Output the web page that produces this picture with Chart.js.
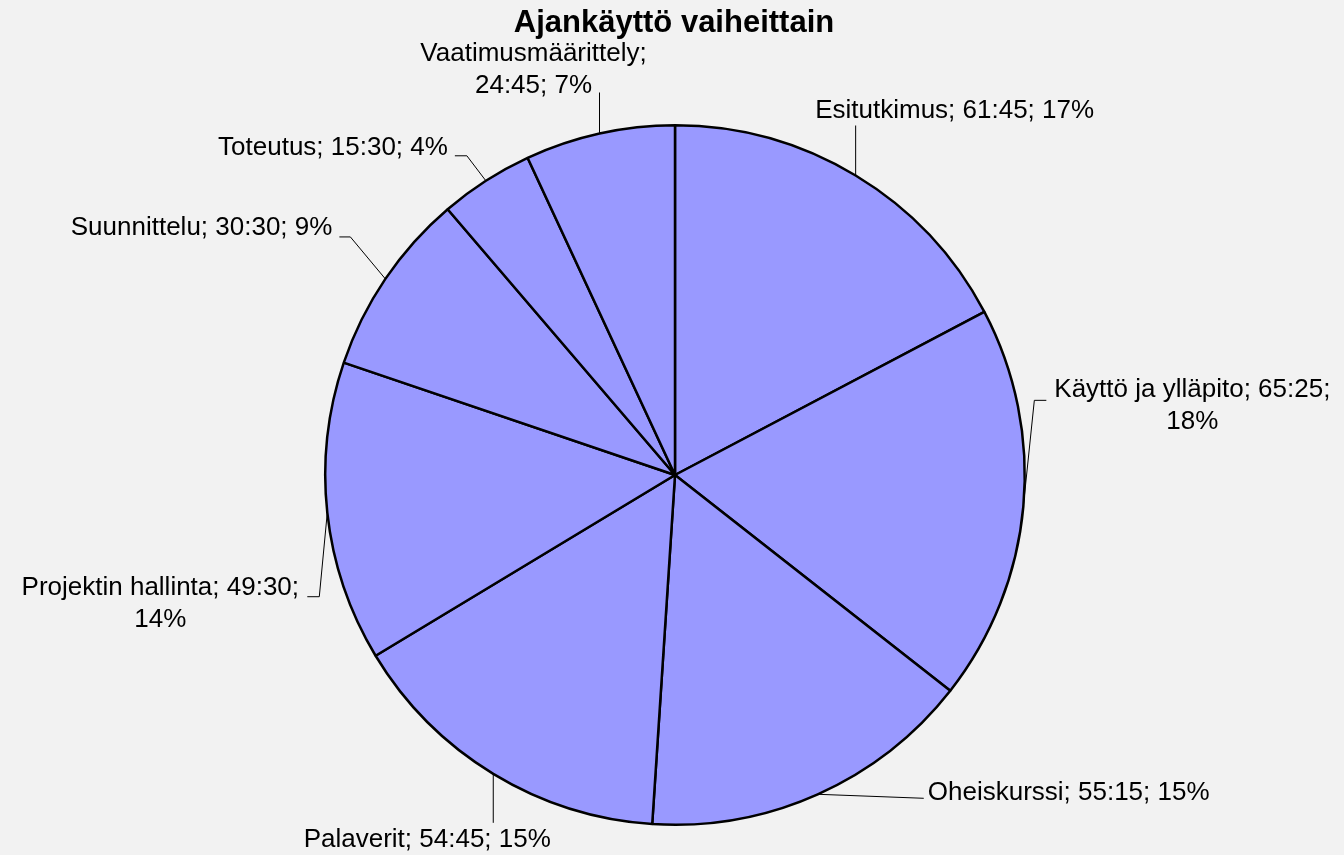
<!DOCTYPE html>
<html lang="fi">
<head>
<meta charset="utf-8">
<title>Ajankäyttö vaiheittain</title>
<script src="https://cdn.jsdelivr.net/npm/chart.js@4.4.1/dist/chart.umd.min.js"></script>
<style>
  html, body { margin: 0; padding: 0; background: #f2f2f2; }
  #pie { display: block; }
</style>
</head>
<body>
<canvas id="pie" width="1344" height="855"></canvas>
<script>
// Vaiheet ja niihin käytetty aika (tunnit:minuutit)
const phases = ['Esitutkimus', 'Käyttö ja ylläpito', 'Oheiskurssi', 'Palaverit',
                'Projektin hallinta', 'Suunnittelu', 'Toteutus', 'Vaatimusmäärittely'];
const hours = ['61:45', '65:25', '55:15', '54:45', '49:30', '30:30', '15:30', '24:45'];
const minutes = hours.map(h => {
    const [hh, mm] = h.split(':').map(Number);
    return hh * 60 + mm;
});
const total = minutes.reduce((a, b) => a + b, 0);

// Selitteiden sijoittelu suhteessa sektorin reunapisteeseen
const labelLayout = [
    { lines: 1, align: 'center', dx: 99,   dy: -65, leader: [[0, -50]] },
    { lines: 2, align: 'center', dx: 169,  dy: -101, leader: [[11, -106], [23, -106]] },
    { lines: 1, align: 'left',   dx: 110,  dy: -1,  leader: [[106, 4]] },
    { lines: 1, align: 'center', dx: -66,  dy: 66,  leader: [[0, 49]] },
    { lines: 2, align: 'center', dx: -167, dy: 91,  leader: [[-8, 84], [-20, 84]] },
    { lines: 1, align: 'right',  dx: -53,  dy: -51, leader: [[-35, -42], [-46, -42]] },
    { lines: 1, align: 'right',  dx: -38,  dy: -33, leader: [[-19, -25], [-31, -25]] },
    { lines: 2, align: 'center', dx: -66,  dy: -64, leader: [[0, -41]] }
];

function labelText(i) {
    const pct = Math.round(minutes[i] / total * 100) + '%';
    const full = phases[i] + '; ' + hours[i] + '; ' + pct;
    if (labelLayout[i].lines === 1) return [full];
    if (i === 7) return [phases[i] + ';', hours[i] + '; ' + pct];
    return [phases[i] + '; ' + hours[i] + ';', pct];
}

const labelPlugin = {
    id: 'pieLabels',
    afterDraw(chart) {
        const ctx = chart.ctx;
        const meta = chart.getDatasetMeta(0);
        ctx.save();

        // Otsikko
        ctx.fillStyle = '#000';
        ctx.font = 'bold 31px "Liberation Sans", Arial, sans-serif';
        ctx.textAlign = 'center';
        ctx.textBaseline = 'middle';
        ctx.fillText('Ajankäyttö vaiheittain', 674, 23);

        ctx.font = '26px "Liberation Sans", Arial, sans-serif';
        meta.data.forEach((arc, i) => {
            const p = arc.getProps(['x', 'y', 'startAngle', 'endAngle', 'outerRadius'], true);
            const mid = (p.startAngle + p.endAngle) / 2;
            const ex = p.x + Math.cos(mid) * p.outerRadius;
            const ey = p.y + Math.sin(mid) * p.outerRadius;
            const lay = labelLayout[i];

            // Johtoviiva
            ctx.strokeStyle = '#000';
            ctx.lineWidth = 1;
            ctx.beginPath();
            ctx.moveTo(ex, ey);
            lay.leader.forEach(pt => ctx.lineTo(ex + pt[0], ey + pt[1]));
            ctx.stroke();

            // Teksti
            const lines = labelText(i);
            ctx.textAlign = lay.align;
            ctx.textBaseline = 'middle';
            ctx.fillStyle = '#000';
            const lh = 32;
            const y0 = ey + lay.dy - (lines.length - 1) * lh / 2;
            lines.forEach((t, k) => {
                ctx.fillText(t, ex + lay.dx, y0 + k * lh);
            });
        });
        ctx.restore();
    }
};

const ctx = document.getElementById('pie').getContext('2d');
const chart = new Chart(ctx, {
    type: 'pie',
    data: {
        labels: phases,
        datasets: [{
            data: minutes,
            backgroundColor: '#9999ff',
            borderColor: '#000000',
            borderWidth: 2.5
        }]
    },
    options: {
        responsive: false,
        animation: false,
        layout: { padding: { top: 124, bottom: 29, left: 324, right: 318 } },
        plugins: {
            legend: { display: false },
            title: { display: false },
            tooltip: { enabled: false }
        }
    },
    plugins: [labelPlugin]
});
</script>
</body>
</html>
